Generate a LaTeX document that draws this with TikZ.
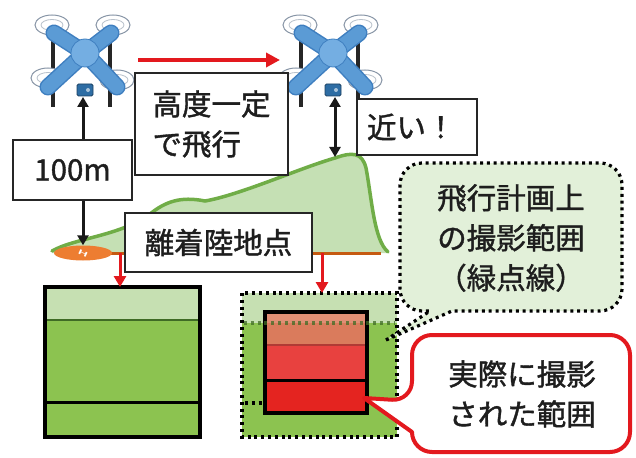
\documentclass[tikz,border=0pt]{standalone}
\usepackage{fontspec}
\newfontfamily\jpfont[FakeBold=1.3]{Noto Sans CJK JP}
\usetikzlibrary{arrows.meta,shapes.geometric}

\definecolor{hillfill}{HTML}{C5E0B4}
\definecolor{ridge}{HTML}{70AD47}
\definecolor{groundc}{HTML}{C55A11}
\definecolor{padc}{HTML}{ED7D31}
\definecolor{fieldc}{HTML}{8CC350}
\definecolor{fieldlight}{HTML}{C6E0B2}
\definecolor{fieldline}{HTML}{3F6B25}
\definecolor{notefill}{HTML}{E2F0D9}
\definecolor{alertred}{HTML}{E3191E}
\definecolor{shotA}{HTML}{DA7B5C}
\definecolor{shotB}{HTML}{E8413F}
\definecolor{shotC}{HTML}{E42420}
\definecolor{shotline}{HTML}{B03A34}
\definecolor{droneblue}{HTML}{5B9BD5}
\definecolor{droneedge}{HTML}{3F7FC0}
\definecolor{dronebody}{HTML}{74AEE2}
\definecolor{camc}{HTML}{2E6DA4}
\definecolor{rotor}{HTML}{8795A6}
\definecolor{ink}{HTML}{1E1E1E}

\tikzset{
  jp/.style={font=\jpfont\fontsize{29.5pt}{40pt}\selectfont, text=ink},
  label/.style={jp, draw=black!85, line width=1.6pt, fill=white, inner sep=0pt},
  dimarrow/.style={line width=3pt, black!90,
    {Triangle[length=10pt,width=11pt]}-{Triangle[length=10pt,width=11pt]}},
  flightarrow/.style={line width=4pt, alertred, -{Triangle[length=14pt,width=14pt]}},
  droparrow/.style={line width=3pt, alertred, -{Triangle[length=11pt,width=12pt]}},
  dots/.style={line width=3.2pt, dash pattern=on 3pt off 3.8pt},
  frame/.style={draw=black, line width=4pt, inner sep=0pt, outer sep=0pt},
  pics/drone/.style={code={
    % landing legs
    \draw[line width=3.2pt, black!85] (-32,-12) -- (-32,54) (25,-12) -- (25,54);
    % rotor discs
    \foreach \x/\y in {-33/-28, 28/-28, -37/25, 32/27} {
      \draw[rotor, line width=1pt, fill=white] (\x,\y) ellipse (17 and 10);
      \draw[rotor!60, line width=0.8pt] (\x,\y) ellipse (11 and 5.5);
    }
    % arms
    \foreach \x/\y in {-31/-20, 26/-20, -37/34, 32/34}
      \draw[droneedge, line width=17pt, line cap=round] (0,0) -- (\x,\y);
    \foreach \x/\y in {-31/-20, 26/-20, -37/34, 32/34}
      \draw[droneblue, line width=14pt, line cap=round] (0,0) -- (\x,\y);
    % hub
    \filldraw[fill=dronebody, draw=droneedge, line width=0.8pt] (0,0) circle (14);
    % camera
    \filldraw[fill=camc, draw=camc!60!black, line width=0.8pt, rounded corners=1.5pt]
      (-8,31) rectangle (8,43);
    \fill[camc!40!white] (3,37) circle (2);
  }},
}

\begin{document}
\begin{tikzpicture}[x=1pt, y=-1pt]
\useasboundingbox (0,0) rectangle (636,457);

% hill with ridge line
\fill[hillfill] (52,253) -- (52,251)
  .. controls (75,238) and (120,236) .. (150,214)
  .. controls (165,202) and (180,196) .. (205,201)
  .. controls (240,195) and (300,168) .. (335,158)
  .. controls (352,152) and (362,152) .. (366,168)
  .. controls (372,200) and (374,240) .. (388,252)
  -- (388,253) -- cycle;
\draw[ridge, line width=3.5pt, line cap=round] (52,251)
  .. controls (75,238) and (120,236) .. (150,214)
  .. controls (165,202) and (180,196) .. (205,201)
  .. controls (240,195) and (300,168) .. (335,158)
  .. controls (352,152) and (362,152) .. (366,168)
  .. controls (372,200) and (374,240) .. (388,252);

% ground line and helipad
\draw[groundc, line width=3pt] (90,253) -- (381,253);
\node[ellipse, fill=padc, minimum width=58pt, minimum height=15pt, inner sep=0pt] (pad) at (83,253) {};
\node[text=white, font=\bfseries\sffamily\fontsize{10pt}{10pt}\selectfont, rotate=-25, xscale=1.3, yscale=0.7] (padmark) at (pad) {H};

% drones
\pic at (85,53) {drone};
\pic at (333,53) {drone};

% flight direction
\coordinate (fstart) at (138,60);
\coordinate (fend) at (280,60);
\draw[flightarrow] (fstart) -- (fend);

% altitude above take-off point and above the hilltop
\coordinate (cam1) at (83,97);
\coordinate (cam2) at (335,97);
\coordinate (top) at (335,157);
\draw[dimarrow] (cam1) -- (pad.north);
\draw[dimarrow] (cam2) -- (top);

% labels
\node[label, minimum width=153pt, minimum height=102pt, align=left] (alt) at (211.5,124) {高度一定\\で飛行};
\node[label, minimum width=119pt, minimum height=60pt] (h100) at (72.5,170) {100m};
\node[label, minimum width=120pt, minimum height=56pt, text width=100pt, align=left] (near) at (417,127) {近い！};
\node[label, minimum width=187pt, minimum height=59pt] (site) at (218.5,242.5) {離着陸地点};

% planned image footprint (left)
\node[minimum width=155pt, minimum height=150pt, inner sep=0pt, outer sep=0pt, anchor=north west] (lbox) at (45,287) {};
\fill[fieldc] (45,287) rectangle (200,437);
\fill[fieldlight] (45,287) rectangle (200,320);
\draw[fieldline, line width=2pt] (45,320) -- (200,320);
\draw[black, line width=3pt] (45,402) -- (200,402);
\draw[frame] (45,287) rectangle (200,437);

% planned footprint (right) with actual footprint inside
\node[minimum width=155pt, minimum height=144pt, inner sep=0pt, outer sep=0pt, anchor=north west] (pbox) at (242,293) {};
\fill[fieldc] (242,293) rectangle (397,437);
\fill[fieldlight] (242,293) rectangle (397,323);
\node[minimum width=102pt, minimum height=101pt, inner sep=0pt, outer sep=0pt, anchor=north west] (rbox) at (265,312) {};
\fill[shotA] (265,312) rectangle (367,345);
\fill[shotA!85!white] (265,312) rectangle (367,323);
\fill[shotB] (265,345) rectangle (367,380);
\fill[shotC] (265,380) rectangle (367,413);
\draw[shotline, line width=2pt] (265,345) -- (367,345);
\draw[black, line width=3pt] (265,380) -- (367,380);
\draw[frame] (265,312) rectangle (367,413);
\draw[fieldline, dots, opacity=0.75] (244,323) -- (395,323);
\draw[black, dots] (245,403) -- (264,403);
\draw[black, dots] (242,293) rectangle (397,437);

% drop arrows from the ground to the footprints
\coordinate (g1) at (120,253);
\coordinate (g2) at (322,253);
\draw[droparrow] (g1) -- (g1 |- lbox.north);
\draw[droparrow] (g2) -- (g2 |- pbox.north);

% note on the planned footprint
\coordinate (gtip) at (386,340);
\draw[black, dots, fill=notefill] (gtip) -- (452,311)
  [rounded corners=22pt] -- (622,311) -- (622,163) -- (400,163) -- (400,311)
  [sharp corners] -- (430,311) -- cycle;
\node[jp, align=center, inner sep=0pt] (plan) at (511,238) {飛行計画上\\の撮影範囲\\（緑点線）};

% note on the actual footprint
\coordinate (rtip) at (364,398);
\draw[alertred, line width=4pt, fill=white, line join=round] (rtip) -- (412,432)
  [rounded corners=20pt] -- (412,452) -- (630,452) -- (630,335) -- (412,335) -- (412,401)
  [sharp corners] -- cycle;
\node[jp, align=center, inner sep=0pt] (actual) at (522,394) {実際に撮影\\された範囲};

\end{tikzpicture}
\end{document}
